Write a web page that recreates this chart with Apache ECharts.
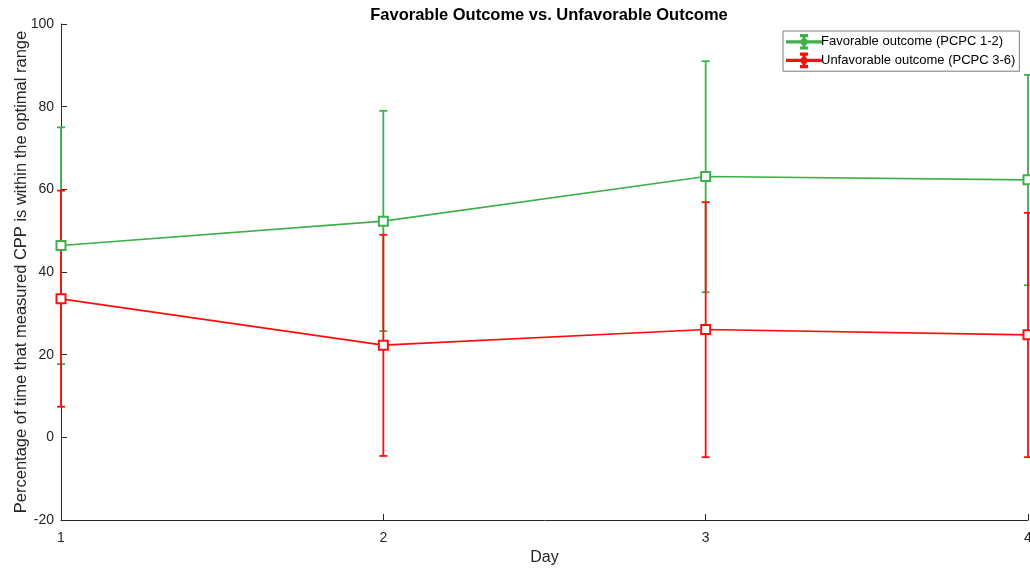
<!DOCTYPE html>
<html>
<head>
<meta charset="utf-8">
<script src="https://cdn.jsdelivr.net/npm/echarts@6/dist/echarts.min.js"></script>
<style>html,body{margin:0;padding:0;background:#fff}#c{width:1030px;height:571px}</style>
</head>
<body>
<div id="c"></div>
<script>
const days = [1, 2, 3, 4];
const favMean = [46.4, 52.3, 63.1, 62.3];
const favLow = [17.7, 25.7, 35.1, 36.8];
const favHigh = [75.0, 79.0, 91.0, 87.7];
const unfMean = [33.5, 22.3, 26.1, 24.8];
const unfLow = [7.4, -4.5, -4.8, -4.8];
const unfHigh = [59.7, 49.0, 56.9, 54.3];
const favName = 'Favorable outcome (PCPC 1-2)';
const unfName = 'Unfavorable outcome (PCPC 3-6)';
const green = '#3cb04a';
const red = '#ff0c0c';

const chart = echarts.init(document.getElementById('c'), null, {renderer: 'canvas'});
const font = 'Liberation Sans, Arial, sans-serif';

function errSeries(low, high, color) {
  return {
    type: 'custom',
    silent: true,
    data: days.map((d, i) => [d, low[i], high[i]]),
    encode: {x: 0, y: [1, 2]},
    renderItem: function (params, api) {
      const x = api.value(0);
      const lo = api.coord([x, api.value(1)]);
      const hi = api.coord([x, api.value(2)]);
      const w = 4;
      const style = {stroke: color, lineWidth: 1.8};
      return {
        type: 'group',
        children: [
          {type: 'line', shape: {x1: lo[0], y1: lo[1], x2: hi[0], y2: hi[1]}, style: style},
          {type: 'line', shape: {x1: lo[0] - w, y1: lo[1], x2: lo[0] + w, y2: lo[1]}, style: style},
          {type: 'line', shape: {x1: hi[0] - w, y1: hi[1], x2: hi[0] + w, y2: hi[1]}, style: style}
        ]
      };
    },
    z: 2
  };
}

function lineSeries(name, vals, color) {
  return {
    name: name,
    type: 'line',
    data: days.map((d, i) => [d, vals[i]]),
    symbol: 'emptyRect',
    symbolSize: 9,
    showAllSymbol: true,
    lineStyle: {color: color, width: 1.6},
    itemStyle: {color: color, borderColor: color, borderWidth: 1.4},
    emphasis: {disabled: true},
    z: 3
  };
}

const icon = 'path://M0,9.3h40v1.4H0z M19.3,2h1.4v16h-1.4z M16.5,2h7v1.4h-7z M16.5,16.6h7v1.4h-7z M17,10a3,3 0 1 0 6,0a3,3 0 1 0 -6,0z';

chart.setOption({
  animation: false,
  backgroundColor: '#fff',
  title: {
    text: 'Favorable Outcome vs. Unfavorable Outcome',
    left: 544, top: 2, textAlign: 'center',
    textStyle: {fontFamily: font, fontSize: 16.5, fontWeight: 'bold', color: '#000'}
  },
  legend: {
    data: [
      {name: favName, icon: icon},
      {name: unfName, icon: icon}
    ],
    orient: 'vertical',
    left: 783, top: 31,
    padding: [3, 4, 3, 3],
    itemGap: 3,
    itemWidth: 34, itemHeight: 14,
    backgroundColor: '#fff',
    borderColor: '#7a7a7a', borderWidth: 1, borderRadius: 0,
    textStyle: {fontFamily: font, fontSize: 13, color: '#000', padding: [0, 0, 0, -5]},
    selectedMode: false
  },
  grid: {left: 61, right: 2, top: 24, bottom: 51, containLabel: false, outerBoundsMode: 'none'},
  xAxis: {
    type: 'value', min: 1, max: 4, interval: 1,
    name: 'Day', nameLocation: 'middle', nameGap: 30, nameMoveOverlap: false,
    nameTextStyle: {fontFamily: font, fontSize: 16, color: '#262626'},
    axisLine: {show: true, onZero: false, lineStyle: {color: '#262626', width: 1}},
    axisTick: {show: true, inside: true, length: 6, lineStyle: {color: '#262626'}},
    axisLabel: {fontFamily: font, fontSize: 14, color: '#262626', margin: 11},
    splitLine: {show: false}
  },
  yAxis: {
    type: 'value', min: -20, max: 100, interval: 20,
    name: 'Percentage of time that measured CPP is within the optimal range',
    nameLocation: 'middle', nameGap: 31, nameMoveOverlap: false,
    nameTextStyle: {fontFamily: font, fontSize: 16.5, color: '#262626'},
    axisLine: {show: true, onZero: false, lineStyle: {color: '#262626', width: 1}},
    axisTick: {show: true, inside: true, length: 6, lineStyle: {color: '#262626'}},
    axisLabel: {fontFamily: font, fontSize: 14, color: '#262626', margin: 7},
    splitLine: {show: false}
  },
  series: [
    errSeries(favLow, favHigh, green),
    lineSeries(favName, favMean, green),
    errSeries(unfLow, unfHigh, red),
    lineSeries(unfName, unfMean, red)
  ]
});
</script>
</body>
</html>
